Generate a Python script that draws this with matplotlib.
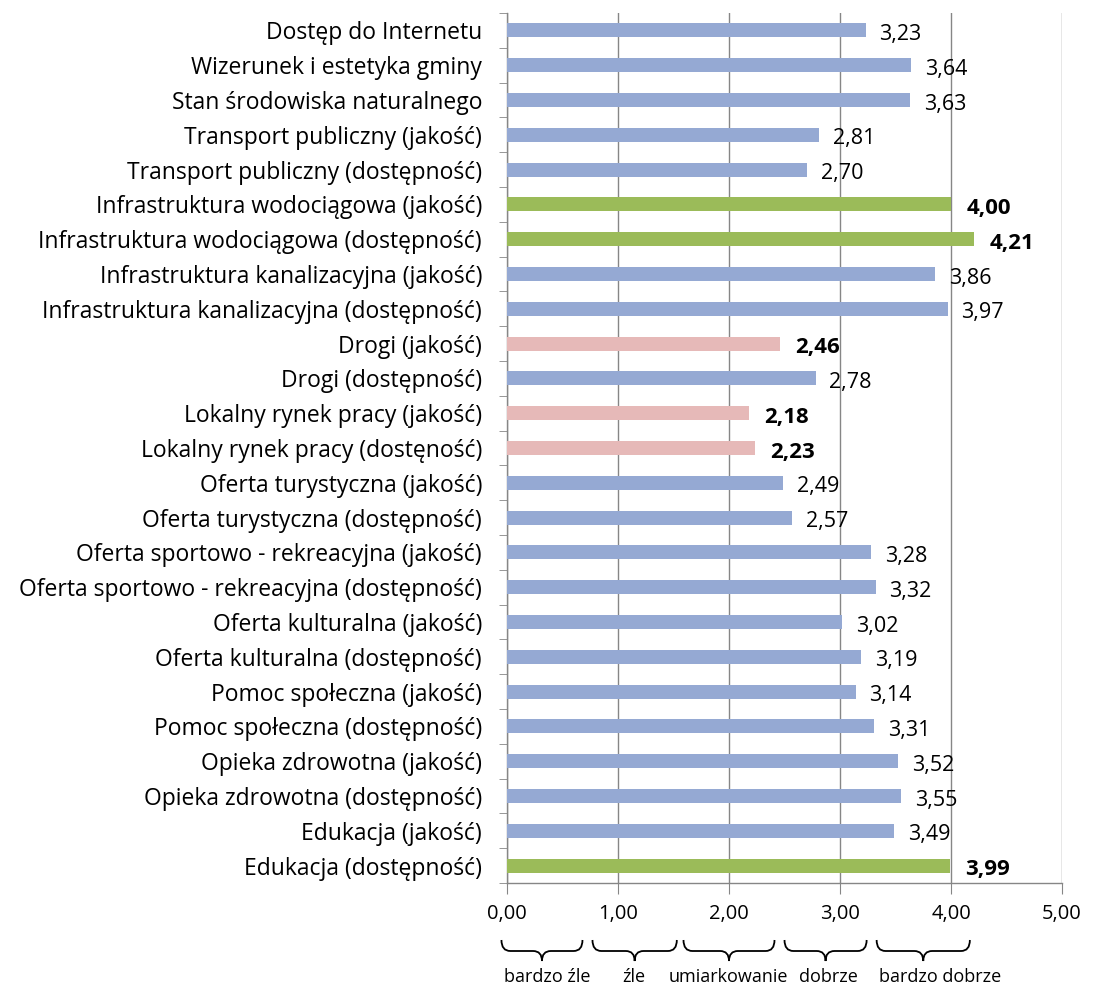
import matplotlib
matplotlib.use("Agg")
import matplotlib.pyplot as plt
from matplotlib.path import Path
from matplotlib.patches import PathPatch
import matplotlib.transforms as mtransforms

categories = [
    "Dostęp do Internetu",
    "Wizerunek i estetyka gminy",
    "Stan środowiska naturalnego",
    "Transport publiczny (jakość)",
    "Transport publiczny (dostępność)",
    "Infrastruktura wodociągowa (jakość)",
    "Infrastruktura wodociągowa (dostępność)",
    "Infrastruktura kanalizacyjna (jakość)",
    "Infrastruktura kanalizacyjna (dostępność)",
    "Drogi (jakość)",
    "Drogi (dostępność)",
    "Lokalny rynek pracy (jakość)",
    "Lokalny rynek pracy (dostęność)",
    "Oferta turystyczna (jakość)",
    "Oferta turystyczna (dostępność)",
    "Oferta sportowo - rekreacyjna (jakość)",
    "Oferta sportowo - rekreacyjna (dostępność)",
    "Oferta kulturalna (jakość)",
    "Oferta kulturalna (dostępność)",
    "Pomoc społeczna (jakość)",
    "Pomoc społeczna (dostępność)",
    "Opieka zdrowotna (jakość)",
    "Opieka zdrowotna (dostępność)",
    "Edukacja (jakość)",
    "Edukacja (dostępność)",
]
values = [3.23, 3.64, 3.63, 2.81, 2.70, 4.00, 4.21, 3.86, 3.97, 2.46, 2.78,
          2.18, 2.23, 2.49, 2.57, 3.28, 3.32, 3.02, 3.19, 3.14, 3.31, 3.52,
          3.55, 3.49, 3.99]
# 'n' normal, 'g' best, 'r' worst
highlight = ["n", "n", "n", "n", "n", "g", "g", "n", "n", "r", "n",
             "r", "r", "n", "n", "n", "n", "n", "n", "n", "n", "n",
             "n", "n", "g"]
x_ticks = [0, 1, 2, 3, 4, 5]
x_tick_labels = ["0,00", "1,00", "2,00", "3,00", "4,00", "5,00"]
scale_labels = ["bardzo źle", "źle", "umiarkowanie", "dobrze", "bardzo dobrze"]
scale_spans = [(-0.05, 0.68), (0.77, 1.53), (1.59, 2.41), (2.50, 3.24), (3.33, 4.17)]
scale_label_x = [0.36, 1.14, 1.99, 2.90, 3.90]

colors = {"n": "#95A9D3", "g": "#9BBB59", "r": "#E6B9B8"}
FONT = "Open Sans"
plt.rcParams["font.family"] = [FONT, "DejaVu Sans"]

fig = plt.figure(figsize=(11.02, 9.88), dpi=100)
ax = fig.add_axes([507 / 1102, 1 - 883 / 988, (1062 - 507) / 1102, (883 - 13) / 988])

n = len(categories)
ypos = list(range(n))[::-1]
ax.barh(ypos, values, height=0.4, color=[colors[h] for h in highlight], zorder=3)

for y, v, h in zip(ypos, values, highlight):
    bold = h != "n"
    ax.annotate(f"{v:.2f}".replace(".", ","), xy=(v, y), xytext=(10 if not bold else 11, -3),
                textcoords="offset points", ha="left", va="center",
                fontsize=16 if bold else 15.5, fontweight="bold" if bold else "normal",
                color="black", annotation_clip=False, zorder=4)

ax.set_xlim(0, 5)
ax.set_ylim(-0.5, n - 0.5)
ax.set_xticks(x_ticks)
ax.set_xticklabels(x_tick_labels, fontsize=14.5)
ax.set_yticks(ypos)
ax.set_yticklabels(categories, fontsize=16.5)
ax.set_yticks([i + 0.5 for i in range(-1, n)], minor=True)
ax.tick_params(axis="y", which="major", length=0, pad=18)
ax.tick_params(axis="y", which="minor", length=6, color="#868686", direction="out")
ax.tick_params(axis="x", which="major", length=8, color="#868686", direction="out", pad=7)
ax.xaxis.grid(True, color="#868686", linewidth=1, zorder=0)
for s in ["top", "right"]:
    ax.spines[s].set_visible(False)
for s in ["left", "bottom"]:
    ax.spines[s].set_color("#868686")
    ax.spines[s].set_linewidth(1)

# braces below the axis
trans = mtransforms.blended_transform_factory(ax.transData, fig.transFigure)
ytop = 1 - 940 / 988
ymid = 1 - 951 / 988
ybot = 1 - 961 / 988
r = 0.08
for (x0, x1) in scale_spans:
    xm = (x0 + x1) / 2
    verts = [(x0, ytop), (x0, ymid), (x0 + r, ymid),
             (xm - r, ymid), (xm, ymid), (xm, ybot),
             (xm, ymid), (xm + r, ymid),
             (x1 - r, ymid), (x1, ymid), (x1, ytop)]
    codes = [Path.MOVETO, Path.CURVE3, Path.CURVE3,
             Path.LINETO, Path.CURVE3, Path.CURVE3,
             Path.CURVE3, Path.CURVE3,
             Path.LINETO, Path.CURVE3, Path.CURVE3]
    patch = PathPatch(Path(verts, codes), transform=trans, facecolor="none",
                      edgecolor="black", linewidth=1.3, clip_on=False)
    fig.add_artist(patch)

for lab, x in zip(scale_labels, scale_label_x):
    t = fig.text(0, 1 - 977 / 988, lab, transform=trans, ha="center", va="center", fontsize=13)
    t.set_x(x)

fig.savefig("out.png", dpi=100)
